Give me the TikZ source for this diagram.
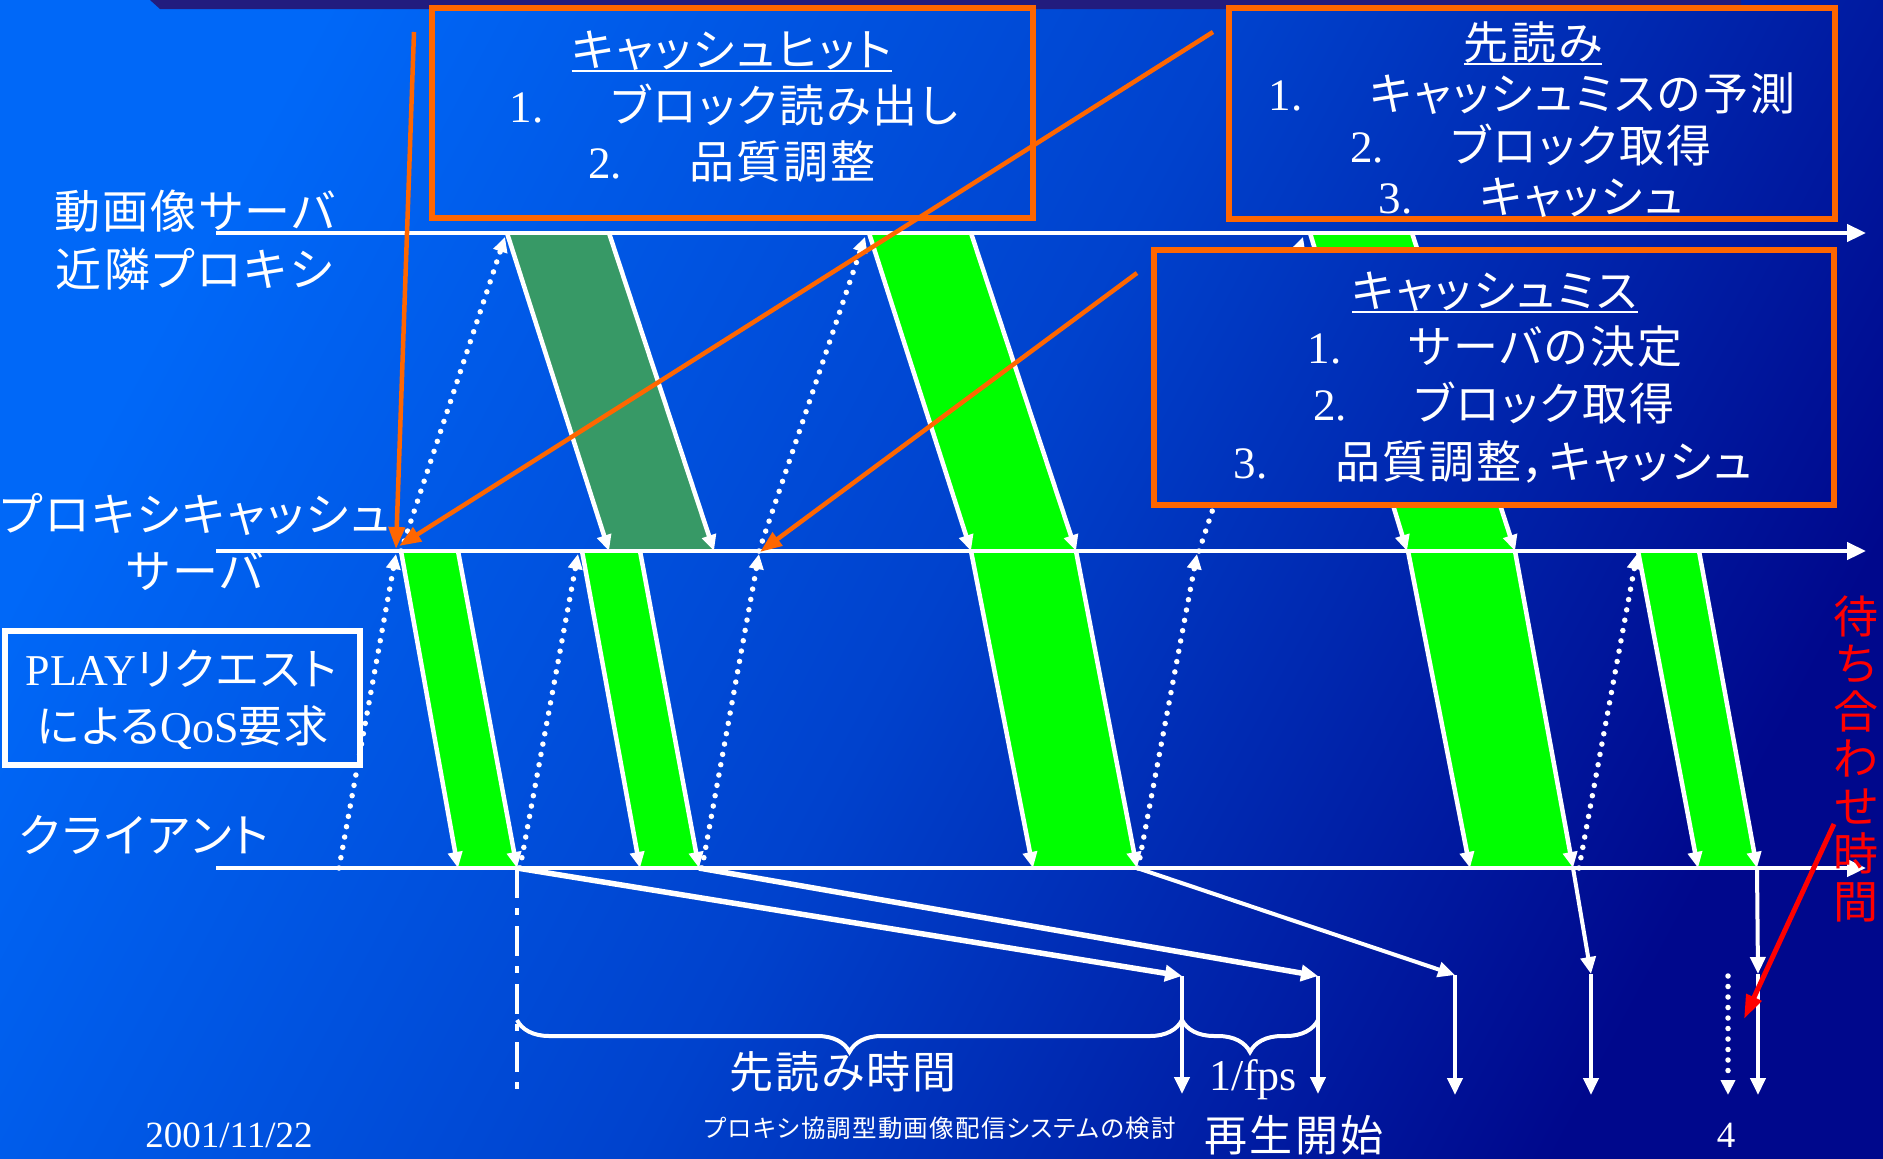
\documentclass[tikz,border=0pt]{standalone}
\usepackage{fontspec}
\setmainfont{Liberation Serif}
\newfontfamily\cjk[RawFeature=+palt,LetterSpace=5]{Noto Sans CJK JP}
\usetikzlibrary{arrows.meta,decorations.pathreplacing}
\definecolor{bgA}{RGB}{0,104,248}
\definecolor{bgM}{RGB}{0,66,205}
\definecolor{bgB}{RGB}{0,8,140}
\definecolor{topband}{RGB}{34,28,126}
\definecolor{orng}{RGB}{255,102,0}
\definecolor{dkgreen}{RGB}{55,153,102}
\definecolor{brgreen}{RGB}{0,255,0}
\newcommand\bgshade{\shade[top color=bgA,bottom color=bgB,middle color=bgM,shading angle=62] (0,0) rectangle (1883,1159);}
\newcommand\fs[1]{\fontsize{#1}{#1}\selectfont}
\newcommand\mkband[8]{%
  \coordinate (#1tl) at (#3,#7); \coordinate (#1tr) at (#4,#7);
  \coordinate (#1bl) at (#5,#8); \coordinate (#1br) at (#6,#8);
  \fill[#2] (#1tl) -- (#1tr) -- (#1br) -- (#1bl) -- cycle;
  \draw[bedge] (#1tl) -- (#1bl);
  \draw[bedge] (#1tr) -- (#1br);}
\begin{document}
\begin{tikzpicture}[x=1pt,y=-1pt,
  tline/.style={white,line width=4.5pt,-{Triangle[length=19pt,width=17pt]}},
  bedge/.style={white,line width=4.5pt,-{Triangle[length=16pt,width=14pt]}},
  req/.style={white,line width=5.5pt,line cap=round,dash pattern=on 0pt off 10.5pt,-{Triangle[length=15pt,width=14pt]}},
  thk/.style={white,line width=5.5pt,-{Triangle[length=17pt,width=16pt]}},
  thn/.style={white,line width=4pt,-{Triangle[length=17pt,width=15pt]}},
  ddash/.style={white,line width=4.5pt,dash pattern=on 30pt off 10pt on 7pt off 11pt},
  brc/.style={white,line width=4pt,decorate,decoration={brace,mirror,amplitude=32pt}},
  obox/.style={orng,line width=5.5pt},
  oarr/.style={orng,line width=4.5pt,-{Triangle[length=22pt,width=16pt]}},
  rarr/.style={red,line width=5pt,-{Triangle[length=24pt,width=16pt]}},
  txt/.style={text=white,inner sep=0pt,anchor=base},
  ul/.style={white,line width=2.5pt},
]
\useasboundingbox (0,0) rectangle (1883,1159);
\bgshade
\fill[topband] (150,0) -- (1741,0) -- (1741,9) -- (160,9) -- cycle;

% bands
\mkband{A}{dkgreen}{507}{609}{609}{714}{233}{551}
\mkband{B}{brgreen}{869}{971}{971}{1076}{233}{551}
\mkband{C}{brgreen}{1310}{1412}{1407}{1515}{233}{551}
\mkband{Ga}{brgreen}{401}{458}{458}{517}{551}{868}
\mkband{Gb}{brgreen}{582}{640}{640}{699}{551}{868}
\mkband{Gc}{brgreen}{971}{1076}{1033}{1137}{551}{868}
\mkband{Gd}{brgreen}{1408}{1515}{1470}{1573}{551}{868}
\mkband{Ge}{brgreen}{1638}{1699}{1698}{1757}{551}{868}

% timelines
\coordinate (L1s) at (216,233); \coordinate (L1e) at (1866,233);
\coordinate (L2s) at (216,551); \coordinate (L2e) at (1866,551);
\coordinate (L3s) at (216,868); \coordinate (L3e) at (1866,868);
\draw[tline] (L1s) -- (L1e);
\draw[tline] (L2s) -- (L2e);
\draw[tline] (L3s) -- (L3e);

% requests (dotted)
\coordinate (D1s) at (401,551); \coordinate (D1e) at (505,237);
\coordinate (D2s) at (759,551); \coordinate (D2e) at (865,237);
\coordinate (D3s) at (1199,551); \coordinate (D3e) at (1303,237);
\coordinate (E1s) at (339,868); \coordinate (E1e) at (396,554);
\coordinate (E2s) at (520,868); \coordinate (E2e) at (578,554);
\coordinate (E3s) at (702,868); \coordinate (E3e) at (759,554);
\coordinate (E4s) at (1138,868); \coordinate (E4e) at (1197,554);
\coordinate (E5s) at (1579,868); \coordinate (E5e) at (1637,554);
\foreach \r in {D1,D2,D3,E1,E2,E3,E4,E5} \draw[req] (\r s) -- (\r e);

% playback arrows
\coordinate (T1) at (1182,976); \coordinate (T2) at (1318,976);
\coordinate (T3) at (1455,975); \coordinate (T4) at (1591,974);
\coordinate (T5) at (1758,974);
\coordinate (V1) at (1182,1094); \coordinate (V2) at (1318,1094);
\coordinate (V3) at (1455,1095); \coordinate (V4) at (1591,1095);
\coordinate (V5t) at (1728,976); \coordinate (V5) at (1728,1095);
\coordinate (V6) at (1758,1095);
\draw[thk] (Gabr) -- (T1);
\draw[thk] (Gbbr) -- (T2);
\draw[thn] (Gcbr) -- (T3);
\draw[thn] (Gdbr) -- (T4);
\draw[thn] (Gebr) -- (T5);
\draw[thn] (T1) -- (V1);
\draw[thn] (T2) -- (V2);
\draw[thn] (T3) -- (V3);
\draw[thn] (T4) -- (V4);
\draw[thn] (T5) -- (V6);
\draw[req] (V5t) -- (V5);
\coordinate (DD) at (517,1092);
\draw[ddash] (Gabr) -- (DD);
\coordinate (BrA) at (517,1020); \coordinate (BrB) at (1182,1020); \coordinate (BrC) at (1318,1020);
\draw[brc] (BrA) -- (BrB);
\draw[brc] (BrB) -- (BrC);

% PLAY box
\draw[white,line width=5.5pt] (5,631) rectangle (360,765);
\node[txt,font=\fs{44}] (play1) at (181,685) {PLAY{\cjk リクエスト}};
\node[txt,font=\fs{44}] (play2) at (183,742) {{\cjk による}QoS{\cjk 要求}};

% box 1
\begin{scope}\clip (432,8) rectangle (1033,218); \bgshade\end{scope}
\draw[obox] (432,8) rectangle (1033,218);
\node[txt,font=\fs{45}\cjk] (h1) at (732,66) {キャッシュヒット};
\draw[ul] ([yshift=-5pt]h1.base west) -- ([yshift=-5pt]h1.base east);
\node[txt,font=\fs{45}] (b1a) at (734,122) {1.\hspace{1.5em}{\cjk ブロック読み出し}};
\node[txt,font=\fs{45}] (b1b) at (732,178) {2.\hspace{1.5em}{\cjk 品質調整}};

% box 2
\begin{scope}\clip (1229,8) rectangle (1835,219); \bgshade\end{scope}
\draw[obox] (1229,8) rectangle (1835,219);
\node[txt,font=\fs{45}\cjk] (h2) at (1533,59) {先読み};
\draw[ul] ([yshift=-5pt]h2.base west) -- ([yshift=-5pt]h2.base east);
\node[txt,font=\fs{45}] (b2a) at (1532,110) {1.\hspace{1.5em}{\cjk キャッシュミスの予測}};
\node[txt,font=\fs{45}] (b2b) at (1531,162) {2.\hspace{1.5em}{\cjk ブロック取得}};
\node[txt,font=\fs{45}] (b2c) at (1531,213) {3.\hspace{1.5em}{\cjk キャッシュ}};

% box 3
\begin{scope}\clip (1154,250) rectangle (1834,505); \bgshade\end{scope}
\draw[obox] (1154,250) rectangle (1834,505);
\node[txt,font=\fs{45}\cjk] (h3) at (1495,307) {キャッシュミス};
\draw[ul] ([yshift=-5pt]h3.base west) -- ([yshift=-5pt]h3.base east);
\node[txt,font=\fs{45}] (b3a) at (1495,363) {1.\hspace{1.5em}{\cjk サーバの決定}};
\node[txt,font=\fs{45}] (b3b) at (1494,420) {2.\hspace{1.5em}{\cjk ブロック取得}};
\node[txt,font=\fs{45}] (b3c) at (1493,478) {3.\hspace{1.5em}{\cjk 品質調整，キャッシュ}};

% orange arrows
\coordinate (O1s) at (414,32); \coordinate (O1e) at (396,549);
\coordinate (O2s) at (1213,32); \coordinate (O2e) at (399,546);
\coordinate (O3s) at (1137,273); \coordinate (O3e) at (760,552);
\draw[oarr] (O1s) -- (O1e);
\draw[oarr] (O2s) -- (O2e);
\draw[oarr] (O3s) -- (O3e);

% red
\foreach \ch [count=\i from 0] in {待,ち,合,わ,せ,時,間}
  \node[txt,text=red,font=\fs{45}\cjk] (w\i) at (1856,{633+47.5*\i}) {\ch};
\coordinate (R1) at (1834,824); \coordinate (R2) at (1744,1019);
\draw[rarr] (R1) -- (R2);

% labels
\node[txt,font=\fs{46}\cjk] (lab1) at (195,228) {動画像サーバ};
\node[txt,font=\fs{46}\cjk] (lab2) at (194,286) {近隣プロキシ};
\node[txt,font=\fs{46}\cjk] (lab3) at (195,531) {プロキシキャッシュ};
\node[txt,font=\fs{46}\cjk] (lab4) at (195,588) {サーバ};
\node[txt,font=\fs{46}\cjk] (lab5) at (144,852) {クライアント};
\node[txt,font=\fs{44}\cjk] (pre) at (843,1088) {先読み時間};
\node[txt,font=\fs{44}] (fps) at (1253,1090) {1/fps};
\node[txt,font=\fs{43}\cjk] (play) at (1294,1151) {再生開始};
\node[txt,font=\fs{24.5}\cjk] (title) at (940,1137) {プロキシ協調型動画像配信システムの検討};
\node[txt,font=\fs{37}] (date) at (229,1147) {2001/11/22};
\node[txt,font=\fs{37}] (page) at (1726,1147) {4};
\end{tikzpicture}
\end{document}
